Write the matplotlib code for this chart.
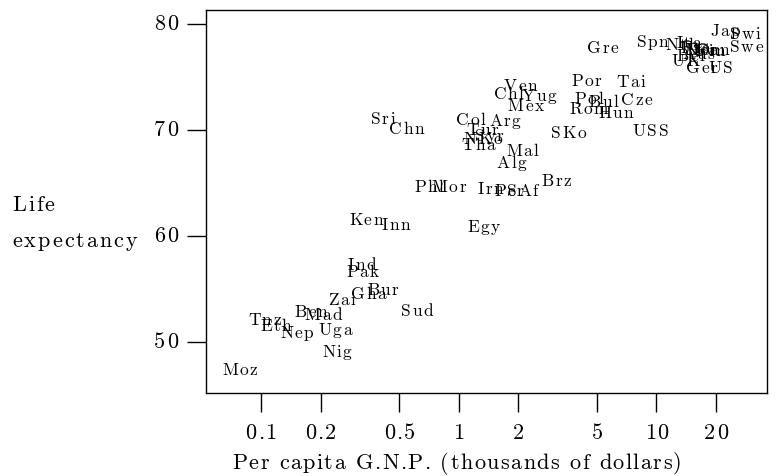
import matplotlib
matplotlib.use("Agg")
import matplotlib.pyplot as plt
from matplotlib.ticker import FixedLocator, NullFormatter, NullLocator
from matplotlib import font_manager
from matplotlib.font_manager import FontProperties
from matplotlib.ft2font import FT2Font
from matplotlib.textpath import TextToPath
import matplotlib.transforms as mtransforms

try:
    from matplotlib.ft2font import LoadFlags
    NOHINT = LoadFlags.NO_HINTING
except Exception:
    from matplotlib.ft2font import LOAD_NO_HINTING as NOHINT

plt.rcParams['font.family'] = ['cmr10', 'DejaVu Serif']
plt.rcParams['mathtext.fontset'] = 'cm'
plt.rcParams['axes.formatter.use_mathtext'] = True

countries = ["Moz", "Tnz", "Eth", "Nep", "Ben", "Mad", "Uga", "Nig", "Zai", "Gha",
             "Bur", "Sud", "Ind", "Pak", "Ken", "Inn", "Egy", "Phl", "Mor", "Irn",
             "Per", "SAf", "Brz", "Alg", "Mal", "Tha", "NKo", "Syr", "Tur", "Col",
             "Arg", "Sri", "Chn", "Mex", "Chl", "Ven", "Yug", "Por", "Tai", "Pol",
             "Bul", "Rom", "Hun", "Cze", "SKo", "USS", "Gre", "Spn", "Jap", "Swi",
             "Swe", "Nth", "Ita", "Fra", "Nor", "Den", "Fin", "Can", "Aus", "Bel",
             "UK", "Ger", "US"]
gnp = [0.078, 0.104, 0.119, 0.152, 0.179, 0.206, 0.237, 0.242, 0.257, 0.351,
       0.413, 0.614, 0.324, 0.327, 0.339, 0.481, 1.34, 0.706, 0.890, 1.45,
       1.79, 2.10, 3.13, 1.85, 2.10, 1.25, 1.32, 1.43, 1.31, 1.15,
       1.71, 0.413, 0.546, 2.18, 1.79, 2.06, 2.54, 4.43, 7.39, 4.54,
       5.40, 4.54, 6.21, 7.92, 3.59, 9.33, 5.34, 9.55, 22.3, 28.1,
       28.5, 13.4, 14.5, 15.7, 16.7, 17.3, 18.7, 19.2, 16.3, 14.9,
       14.0, 16.9, 21.0]
life = [47.3, 52.0, 51.4, 50.8, 52.8, 52.5, 51.1, 49.0, 53.9, 54.5,
        54.8, 52.9, 57.2, 56.5, 61.4, 61.0, 60.8, 64.6, 64.6, 64.4,
        64.2, 64.2, 65.1, 66.8, 68.0, 68.5, 69.1, 69.4, 69.9, 70.9,
        70.8, 71.0, 70.0, 72.2, 73.3, 74.1, 73.1, 74.6, 74.5, 72.9,
        72.6, 71.9, 71.5, 72.8, 69.7, 69.8, 77.7, 78.2, 79.3, 79.0,
        77.8, 78.0, 78.1, 77.7, 77.5, 77.5, 77.4, 77.5, 77.1, 76.9,
        76.4, 75.8, 75.8]

x_ticks = [0.1, 0.2, 0.5, 1, 2, 5, 10, 20]
x_tick_labels = ["0.1", "0.2", "0.5", "1", "2", "5", "10", "20"]
y_ticks = [50, 60, 70, 80]
y_tick_labels = ["50", "60", "70", "80"]

DPI = 100
fig = plt.figure(figsize=(7.82, 4.76), dpi=DPI)
ax = fig.add_axes([0.2634, 0.1744, 0.7174, 0.8046])
ax.set_xscale('log')
ax.set_xlim(0.0527, 36.2)
ax.set_ylim(45.19, 81.32)

FONT_PATH = font_manager.findfont(FontProperties(family='cmr10'))
_ttp = TextToPath()


def advances(s, size):
    f = FT2Font(FONT_PATH)
    f.set_size(size, 72)
    out = []
    for ch in s:
        g = f.load_char(ord(ch), flags=NOHINT)
        out.append(g.linearHoriAdvance / 65536.0)
    return out


def spaced_text(x, y, s, size, spacing_px, transform, ha='center', va='center',
                dx_px=0.0, dy_px=0.0):
    """Draw text with extra letter spacing, one glyph at a time."""
    prop = FontProperties(fname=FONT_PATH, size=size)
    adv = advances(s, size)
    sp = spacing_px * 72.0 / DPI
    total = sum(adv) + sp * (len(s) - 1)
    start = {'left': 0.0, 'center': -total / 2.0, 'right': -total}[ha]
    if va == 'center':
        _, h, d = _ttp.get_text_width_height_descent("lp", prop, ismath=False)
        base = d - h / 2.0
    else:
        base = 0.0
    pen = start
    dx = dx_px * 72.0 / DPI
    dy = dy_px * 72.0 / DPI
    for ch, a in zip(s, adv):
        if ch != ' ':
            off = mtransforms.ScaledTranslation((pen + dx) / 72.0, (base + dy) / 72.0,
                                                fig.dpi_scale_trans)
            fig.text(x, y, ch, transform=transform + off, ha='left', va='baseline',
                     fontproperties=prop, color='black')
        pen += a + sp


for name, gx, ly in zip(countries, gnp, life):
    spaced_text(gx, ly, name, 12.5, 1.5, ax.transData)

ax.xaxis.set_major_locator(FixedLocator(x_ticks))
ax.xaxis.set_major_formatter(NullFormatter())
ax.xaxis.set_minor_locator(NullLocator())
ax.xaxis.set_minor_formatter(NullFormatter())
ax.yaxis.set_major_locator(FixedLocator(y_ticks))
ax.yaxis.set_major_formatter(NullFormatter())

ax.tick_params(axis='both', direction='out', length=14, width=1.0, colors='black')
for s in ax.spines.values():
    s.set_linewidth(1.0)

xtrans = mtransforms.blended_transform_factory(ax.transData, ax.transAxes)
for t, lab in zip(x_ticks, x_tick_labels):
    spaced_text(t, 0, lab, 16, 1.2, xtrans, ha='center', va='center', dy_px=-40)

ytrans = mtransforms.blended_transform_factory(ax.transAxes, ax.transData)
for t, lab in zip(y_ticks, y_tick_labels):
    spaced_text(0, t, lab, 16, 1.8, ytrans, ha='right', va='center', dx_px=-28)

spaced_text(457 / 782, 1 - 463 / 476, "Per capita G.N.P. (thousands of dollars)",
            16, 1.4, fig.transFigure, ha='center', va='center')
spaced_text(12 / 782, 1 - 211 / 476, "Life", 16, 2.0, fig.transFigure,
            ha='left', va='baseline')
spaced_text(12 / 782, 1 - 247 / 476, "expectancy", 16, 2.0, fig.transFigure,
            ha='left', va='baseline')

fig.savefig("out.png", dpi=DPI)
